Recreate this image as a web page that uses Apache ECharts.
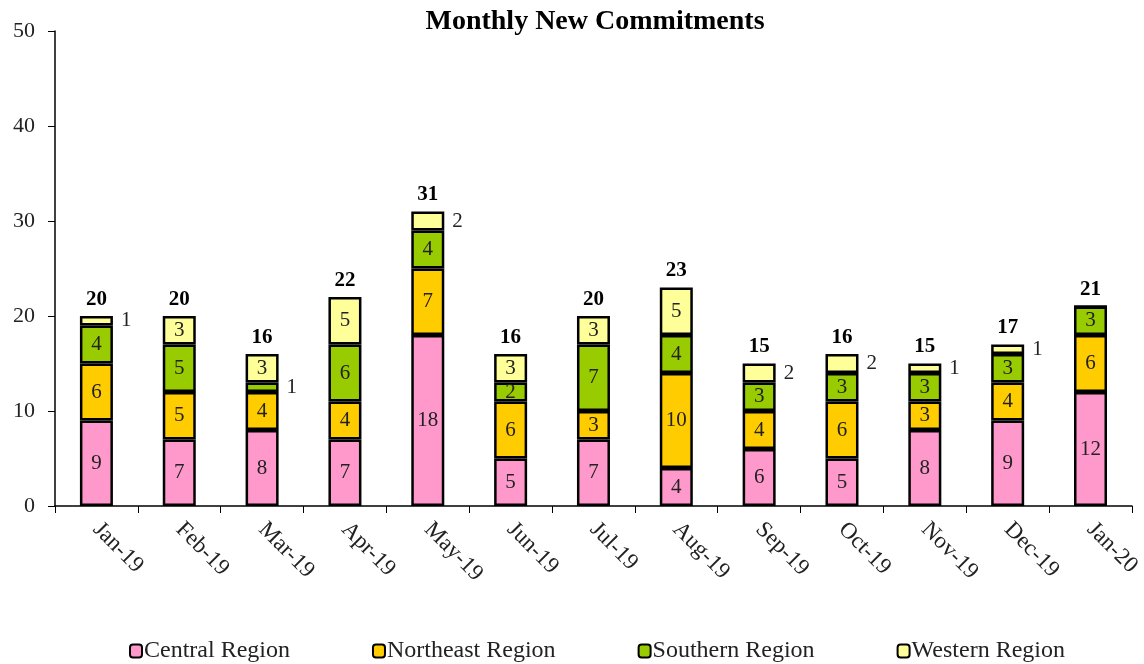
<!DOCTYPE html>
<html>
<head>
<meta charset="utf-8">
<script src="https://cdn.jsdelivr.net/npm/echarts@6/dist/echarts.min.js"></script>
<style>
  html, body { margin: 0; padding: 0; background: #fff; }
  #chart { width: 1144px; height: 664px; }
</style>
</head>
<body>
<div id="chart"></div>
<script>
const months = ['Jan-19', 'Feb-19', 'Mar-19', 'Apr-19', 'May-19', 'Jun-19', 'Jul-19',
  'Aug-19', 'Sep-19', 'Oct-19', 'Nov-19', 'Dec-19', 'Jan-20'];
const central = [9, 7, 8, 7, 18, 5, 7, 4, 6, 5, 8, 9, 12];
const northeast = [6, 5, 4, 4, 7, 6, 3, 10, 4, 6, 3, 4, 6];
const southern = [4, 5, 1, 6, 4, 2, 7, 4, 3, 3, 3, 3, 3];
const western = [1, 3, 3, 5, 2, 3, 3, 5, 2, 2, 1, 1, 0];
const totals = [20, 20, 16, 22, 31, 16, 20, 23, 15, 16, 15, 17, 21];

const FONT = '"Liberation Serif", "DejaVu Serif", serif';
const INK = '#222';

// small segments whose label sits to the right of the bar: series name -> category indexes
const sideLabels = {
  'Southern Region': [2],
  'Western Region': [0, 4, 8, 9, 10, 11],
};

function segment(name, values, color) {
  const side = sideLabels[name] || [];
  return {
    name,
    type: 'bar',
    stack: 'all',
    barWidth: 33,
    itemStyle: { color, borderColor: '#000', borderWidth: 2.5 },
    label: {
      show: true,
      position: 'inside',
      color: INK,
      fontFamily: FONT,
      fontSize: 21,
      formatter: (p) => (p.value ? String(p.value) : ''),
    },
    data: values.map((v, i) => side.includes(i)
      ? { value: v, label: { position: 'right', distance: 8 } }
      : v),
  };
}

const chart = echarts.init(document.getElementById('chart'), null, { renderer: 'canvas' });
chart.setOption({
  animation: false,
  title: {
    text: 'Monthly New Commitments',
    left: 590,
    textAlign: 'center',
    top: 3,
    textStyle: { fontFamily: FONT, fontSize: 28, fontWeight: 'bold', color: '#000' },
  },
  grid: { left: 55, right: 9, top: 31, bottom: 158 },
  legend: {
    top: 634,
    left: 124,
    itemGap: 82,
    itemWidth: 12,
    itemHeight: 13,
    data: ['Central Region', 'Northeast Region', 'Southern Region', 'Western Region'],
    textStyle: { fontFamily: FONT, fontSize: 24, color: INK, padding: [0, 0, 0, -3] },
    itemStyle: { borderColor: '#000', borderWidth: 2 },
  },
  xAxis: {
    type: 'category',
    data: months,
    axisLine: { lineStyle: { color: '#000', width: 1.5 } },
    axisTick: { show: true, length: 7, lineStyle: { color: '#000' } },
    axisLabel: {
      rotate: -45,
      interval: 0,
      margin: 20,
      fontFamily: FONT,
      fontSize: 23,
      color: INK,
    },
  },
  yAxis: {
    type: 'value',
    min: 0,
    max: 50,
    interval: 10,
    splitLine: { show: false },
    axisLine: { show: true, lineStyle: { color: '#000', width: 1.5 } },
    axisTick: { show: true, length: 7, lineStyle: { color: '#000' } },
    axisLabel: { fontFamily: FONT, fontSize: 22, color: INK, margin: 20 },
  },
  series: [
    segment('Central Region', central, '#FF99CC'),
    segment('Northeast Region', northeast, '#FFCC00'),
    segment('Southern Region', southern, '#99CC00'),
    segment('Western Region', western, '#FFFF99'),
    {
      name: 'Total',
      type: 'bar',
      stack: 'all',
      barWidth: 33,
      itemStyle: { color: 'transparent' },
      label: {
        show: true,
        position: 'top',
        distance: 6,
        fontFamily: FONT,
        fontSize: 21,
        fontWeight: 'bold',
        color: '#000',
        formatter: (p) => String(totals[p.dataIndex]),
      },
      data: totals.map(() => 0),
    },
  ],
});
</script>
</body>
</html>
